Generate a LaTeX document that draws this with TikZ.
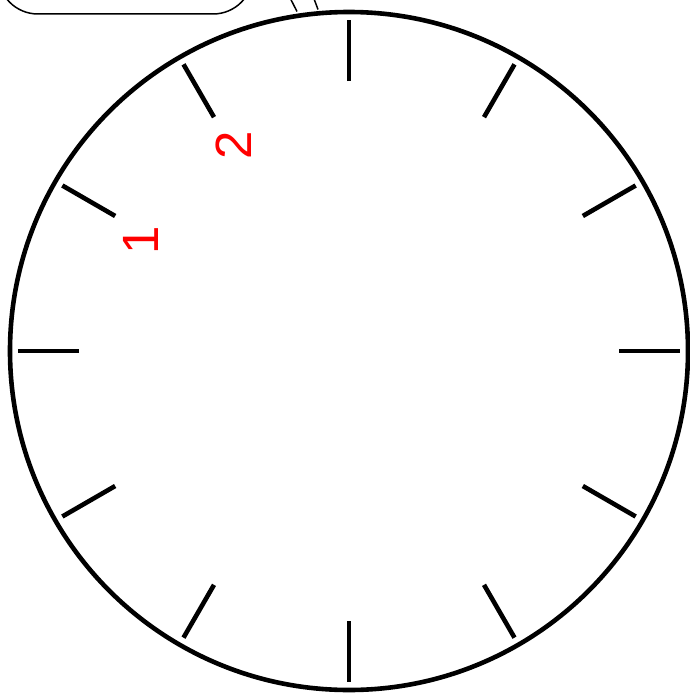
\documentclass[tikz,border=0pt]{standalone}
\usepackage{fontspec}
\setmainfont{Liberation Sans}
\usetikzlibrary{calc}
\tikzset{
  dialrim/.style={line width=4.6pt, draw=black},
  tickmark/.style={line width=4.6pt, draw=black},
  thinline/.style={line width=1.5pt, draw=black},
  dialnum/.style={text=red, rotate=90, inner sep=0pt, font=\fontsize{51}{51}\selectfont},
}
\begin{document}
\begin{tikzpicture}[x=1pt,y=1pt]
\useasboundingbox (0,0) rectangle (690,-693);
\clip (0,0) rectangle (690,-693);
% rounded box partly off the top
\draw[thinline, rounded corners=40pt, fill=white] (-2,60) rectangle (253,-14);
% two thin lines reaching the rim
\coordinate (la0) at (285,12);
\coordinate (la1) at (297,-11.5);
\coordinate (lb0) at (310,12);
\coordinate (lb1) at (318,-9.5);
\draw[thinline] (la0) -- (la1);
\draw[thinline] (lb0) -- (lb1);
% dial
\coordinate (c) at (349,-351);
\draw[dialrim] (c) circle (339);
\foreach \a in {0,30,...,330}{
  \draw[tickmark] ($(c)+(\a:270)$) -- ($(c)+(\a:331)$);
}
\node[dialnum] (n1) at (141,-240) {1};
\node[dialnum] (n2) at (233.5,-145) {2};
\end{tikzpicture}
\end{document}
